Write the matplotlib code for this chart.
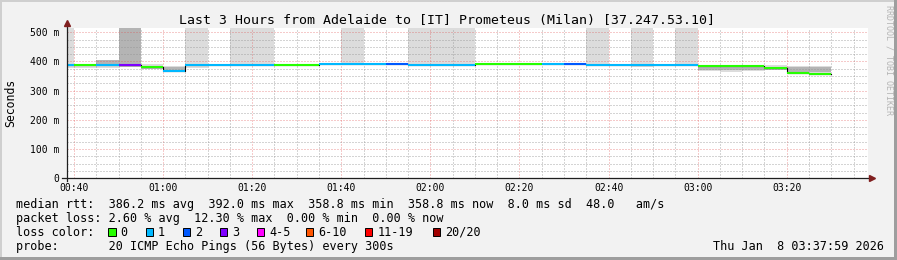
import matplotlib
matplotlib.use("Agg")
import matplotlib.pyplot as plt
from matplotlib.patches import Rectangle
from matplotlib.ticker import FixedLocator
import numpy as np

# 5 minute bins, start time in minutes after midnight
bin_start = [35, 40, 45, 50, 55, 60, 65, 70, 75, 80, 85, 90, 95, 100, 105, 110, 115,
             120, 125, 130, 135, 140, 145, 150, 155, 160, 165, 170, 175, 180, 185,
             190, 195, 200, 205]
# median rtt (ms) and loss colour class per bin
median_ms = [388, 389, 389, 389, 382, 368, 388, 388, 388, 388, 388, 388, 392, 392, 392,
             392, 389, 389, 389, 391, 391, 391, 391, 392, 389, 389, 389, 389, 389, 385,
             386, 384, 378, 362, 358.8]
loss_class = [1, 0, 1, 3, 0, 1, 1, 1, 1, 1, 0, 0, 1, 1, 1, 2, 1, 1, 1, 0, 0, 0, 1, 2,
              1, 1, 1, 1, 1, 0, 0, 0, 0, 0, 0]
# smoke: outer spread of the pings (600 = off the top of the graph)
smoke_lo = [377, 377, 377, 380, 373, 364, 377, 385, 385, 385, 385, 385, 389, 389, 389,
            389, 386, 386, 386, 388, 388, 388, 388, 389, 386, 386, 380, 386, 386, 368,
            364, 366, 370, 358, 356]
smoke_hi = [600, 393, 405, 600, 390, 383, 600, 391, 600, 600, 391, 391, 395, 600, 395,
            395, 600, 600, 600, 393, 393, 393, 393, 395, 600, 392, 600, 392, 600, 388,
            388, 386, 388, 386, 386]
# smoke: dense core of the pings
core_lo = [np.nan, np.nan, 392, 380, 376, 370, np.nan, np.nan, np.nan, np.nan, np.nan,
           np.nan, np.nan, np.nan, np.nan, np.nan, np.nan, np.nan, np.nan, np.nan, np.nan,
           np.nan, np.nan, np.nan, np.nan, np.nan, np.nan, np.nan, np.nan, 372, 370, 371,
           371, 364, 364]
core_hi = [np.nan, np.nan, 405, 600, 386, 381, np.nan, np.nan, np.nan, np.nan, np.nan,
           np.nan, np.nan, np.nan, np.nan, np.nan, np.nan, np.nan, np.nan, np.nan, np.nan,
           np.nan, np.nan, np.nan, np.nan, np.nan, np.nan, np.nan, np.nan, 386, 386, 380,
           382, 380, 382]

loss_labels = ["0", "1", "2", "3", "4-5", "6-10", "11-19", "20/20"]
loss_colors = ["#26ff00", "#00b8ff", "#0059ff", "#7e00ff", "#ff00ff", "#ff5500",
               "#ff0000", "#a10000"]

x_major = [40, 60, 80, 100, 120, 140, 160, 180, 200]
x_labels = ["00:40", "01:00", "01:20", "01:40", "02:00", "02:20", "02:40", "03:00", "03:20"]
y_major = [0, 100, 200, 300, 400, 500]
y_labels = ["0", "100 m", "200 m", "300 m", "400 m", "500 m"]

title = "Last 3 Hours from Adelaide to [IT] Prometeus (Milan) [37.247.53.10]"
legend_rows = [
    "median rtt:  386.2 ms avg  392.0 ms max  358.8 ms min  358.8 ms now  8.0 ms sd  48.0   am/s",
    "packet loss: 2.60 % avg  12.30 % max  0.00 % min  0.00 % now",
    "loss color:",
    "probe:       20 ICMP Echo Pings (56 Bytes) every 300s",
]
stamp = "Thu Jan  8 03:37:59 2026"

W, H = 897, 260
MONO = "DejaVu Sans Mono"


def fx(px):
    return px / W


def fy(py):
    return 1 - py / H


def main():
    plt.rcParams["font.family"] = MONO
    fig = plt.figure(figsize=(W / 100, H / 100), dpi=100, facecolor="#f2f2f2")

    # 3d frame
    fig.add_artist(Rectangle((0, fy(2)), 1, 2 / H, transform=fig.transFigure, color="#cfcfcf", lw=0))
    fig.add_artist(Rectangle((0, 0), fx(2), 1, transform=fig.transFigure, color="#cfcfcf", lw=0))
    fig.add_artist(Rectangle((0, 0), 1, 3 / H, transform=fig.transFigure, color="#9e9e9e", lw=0))
    fig.add_artist(Rectangle((fx(W - 3), 0), fx(3), 1, transform=fig.transFigure, color="#9e9e9e", lw=0))

    left, right, top, bottom = 66.5, 868.3, 28, 178.3
    ax = fig.add_axes([fx(left), fy(bottom), (right - left) / W, (bottom - top) / H])
    ax.set_facecolor("white")
    ax.set_xlim(38.32, 218.3)
    ax.set_ylim(0, 514.7)

    starts = np.array(bin_start)
    med = np.array(median_ms)

    # smoke
    lo = np.array(smoke_lo)
    hi = np.array(smoke_hi)
    ax.bar(starts, hi - lo, bottom=lo, width=5, align="edge", color="#dcdcdc", lw=0, zorder=1)
    clo = np.array(core_lo)
    chi = np.array(core_hi)
    ax.bar(starts, chi - clo, bottom=clo, width=5, align="edge", color="#b4b4b4", lw=0, zorder=1)

    # median line: black steps, coloured by loss
    ax.step(list(bin_start) + [bin_start[-1] + 5], list(median_ms) + [median_ms[-1]],
            where="post", color="black", lw=0.8, zorder=2)
    ax.hlines(med, starts, starts + 5, colors=[loss_colors[c] for c in loss_class],
              lw=1.5, zorder=3)

    # grid
    ax.set_axisbelow("line")
    ax.xaxis.set_major_locator(FixedLocator(x_major))
    ax.xaxis.set_minor_locator(FixedLocator([m for m in range(40, 219, 5) if m % 20]))
    ax.yaxis.set_major_locator(FixedLocator(y_major))
    ax.yaxis.set_minor_locator(FixedLocator([v for v in range(25, 515, 25) if v % 100]))
    ax.set_xticklabels(x_labels)
    ax.set_yticklabels(y_labels)
    ax.grid(which="minor", color="#8f8f8f", alpha=0.75, ls=(0, (1, 2)), lw=0.72)
    ax.grid(which="major", color="#de5050", alpha=0.6, ls=(0, (1, 2)), lw=0.72)
    ax.tick_params(which="both", length=0)
    ax.tick_params(axis="x", labelsize=7, pad=3.2)
    ax.tick_params(axis="y", labelsize=7, pad=5)
    for s in ax.spines.values():
        s.set_visible(False)

    # axes with arrows
    ax.plot([-0.005, 1.002], [0, 0], transform=ax.transAxes, color="#1f1f1f", lw=0.9,
            clip_on=False, zorder=4)
    ax.plot([0, 0], [-0.02, 1.02], transform=ax.transAxes, color="#1f1f1f", lw=0.9,
            clip_on=False, zorder=4)
    ax.plot([1.004], [0], marker=">", ms=4, color="#801f1f", transform=ax.transAxes,
            clip_on=False, zorder=5)
    ax.plot([0], [1.03], marker="^", ms=4, color="#801f1f", transform=ax.transAxes,
            clip_on=False, zorder=5)

    # texts
    fig.text(fx(447), fy(24), title, ha="center", va="baseline", fontsize=9.5)
    fig.text(fx(10.7), fy(102.5), "Seconds", rotation=90, ha="center", va="center", fontsize=8.3)
    fig.text(fx(888.5), fy(60), "RRDTOOL / TOBI OETIKER", rotation=270, ha="center",
             va="center", fontsize=6, color="#b5b5b5")

    for i, row in enumerate(legend_rows):
        fig.text(fx(16), fy(207.8 + 14 * i), row, ha="left", va="baseline", fontsize=8.5)

    box_x = [108.3, 145.7, 182.7, 220, 256.7, 306, 365, 432.7]
    for bx, lab, col in zip(box_x, loss_labels, loss_colors):
        fig.add_artist(Rectangle((fx(bx), fy(235.7)), 7.3 / W, 7.3 / H,
                                 transform=fig.transFigure, facecolor=col,
                                 edgecolor="black", lw=0.7))
        fig.text(fx(bx + 12.3), fy(235.8), lab, ha="left", va="baseline", fontsize=8.5)

    fig.text(fx(713), fy(249.8), stamp, ha="left", va="baseline", fontsize=8.5)

    fig.savefig("out.png", dpi=100, facecolor=fig.get_facecolor())


if __name__ == "__main__":
    main()
